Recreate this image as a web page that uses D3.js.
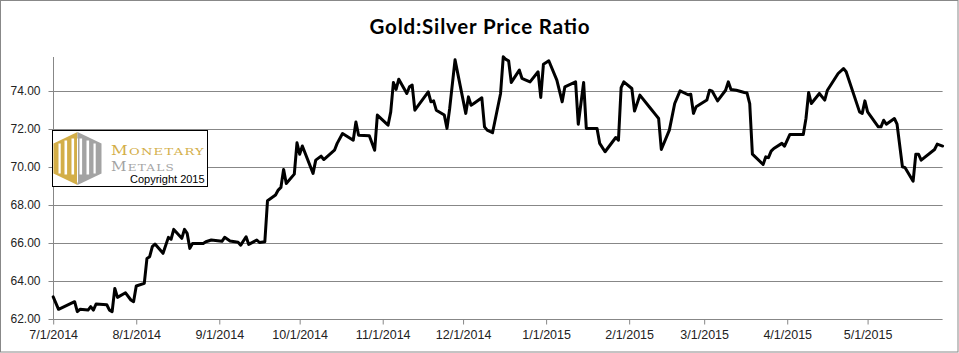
<!DOCTYPE html>
<html>
<head>
<meta charset="utf-8">
<script src="https://cdn.jsdelivr.net/npm/d3@7"></script>
<style>
  html, body { margin: 0; padding: 0; background: #fff; }
  svg { display: block; }
</style>
</head>
<body>
<svg id="chart" width="959" height="353"></svg>
<script>
// ---------------- DATA ----------------
const title = "Gold:Silver Price Ratio";

const dates = [
  "2014-07-01","2014-07-03","2014-07-09","2014-07-10","2014-07-11","2014-07-14","2014-07-15","2014-07-16","2014-07-17","2014-07-21",
  "2014-07-22","2014-07-23","2014-07-24","2014-07-25","2014-07-28","2014-07-30","2014-07-31","2014-08-01","2014-08-04","2014-08-05",
  "2014-08-06","2014-08-07","2014-08-08","2014-08-11","2014-08-13","2014-08-14","2014-08-15","2014-08-18","2014-08-19","2014-08-20",
  "2014-08-21","2014-08-22","2014-08-26","2014-08-27","2014-08-29","2014-09-02","2014-09-03","2014-09-05","2014-09-08","2014-09-09",
  "2014-09-11","2014-09-12","2014-09-15","2014-09-16","2014-09-18","2014-09-19","2014-09-22","2014-09-23","2014-09-24","2014-09-25",
  "2014-09-26","2014-09-29","2014-09-30","2014-10-01","2014-10-02","2014-10-06","2014-10-07","2014-10-09","2014-10-10","2014-10-14",
  "2014-10-15","2014-10-17","2014-10-21","2014-10-22","2014-10-23","2014-10-27","2014-10-29","2014-10-30","2014-11-03","2014-11-04",
  "2014-11-05","2014-11-06","2014-11-07","2014-11-10","2014-11-11","2014-11-12","2014-11-13","2014-11-18","2014-11-19","2014-11-20",
  "2014-11-21","2014-11-24","2014-11-25","2014-11-26","2014-11-28","2014-12-02","2014-12-03","2014-12-04","2014-12-05","2014-12-08",
  "2014-12-09","2014-12-10","2014-12-12","2014-12-15","2014-12-16","2014-12-17","2014-12-18","2014-12-19","2014-12-22","2014-12-23",
  "2014-12-24","2014-12-26","2014-12-29","2014-12-30","2014-12-31","2015-01-02","2015-01-05","2015-01-07","2015-01-08","2015-01-12",
  "2015-01-13","2015-01-15","2015-01-16","2015-01-20","2015-01-21","2015-01-23","2015-01-27","2015-01-28","2015-01-29","2015-01-30",
  "2015-02-02","2015-02-03","2015-02-05","2015-02-09","2015-02-11","2015-02-12","2015-02-13","2015-02-16","2015-02-18","2015-02-20",
  "2015-02-23","2015-02-24","2015-02-25","2015-02-26","2015-03-02","2015-03-03","2015-03-04","2015-03-06","2015-03-09","2015-03-10",
  "2015-03-11","2015-03-13","2015-03-16","2015-03-17","2015-03-18","2015-03-19","2015-03-23","2015-03-24","2015-03-25","2015-03-26",
  "2015-03-27","2015-03-30","2015-03-31","2015-04-02","2015-04-07","2015-04-08","2015-04-09","2015-04-10","2015-04-13","2015-04-15",
  "2015-04-16","2015-04-20","2015-04-22","2015-04-23","2015-04-28","2015-04-29","2015-04-30","2015-05-01","2015-05-05","2015-05-06",
  "2015-05-07","2015-05-08","2015-05-11","2015-05-12","2015-05-14","2015-05-15","2015-05-18","2015-05-19","2015-05-20","2015-05-21",
  "2015-05-26","2015-05-27","2015-05-29"
];

const ratios = [
  63.17,62.51,62.91,62.39,62.51,62.47,62.65,62.47,62.79,62.75,
  62.47,62.39,63.61,63.14,63.38,63.00,62.91,63.74,63.88,65.19,
  65.28,65.81,65.95,65.46,66.30,66.20,66.72,66.25,66.72,66.51,
  65.72,65.98,65.98,66.07,66.16,66.09,66.30,66.11,66.04,65.89,
  66.33,65.93,66.16,66.03,66.07,68.23,68.53,68.79,68.93,69.88,
  69.14,69.63,71.28,70.68,71.11,69.67,70.37,70.58,70.40,70.89,
  71.25,71.77,71.42,72.38,71.68,71.65,70.89,72.74,72.21,72.91,
  74.46,74.09,74.63,73.88,74.23,74.32,73.00,73.96,73.44,73.49,
  73.00,72.74,72.04,73.09,75.65,72.83,73.70,73.26,73.35,73.65,
  72.12,71.95,71.81,73.88,75.81,75.67,75.60,74.46,75.11,74.67,
  74.61,74.49,75.02,73.67,75.42,75.60,74.58,73.44,74.23,74.49,
  72.26,74.46,72.04,72.04,71.25,70.81,71.56,71.42,74.19,74.49,
  74.14,72.95,73.79,73.09,72.74,72.56,70.93,71.95,73.35,74.02,
  73.81,73.84,72.83,73.18,73.53,74.05,74.00,73.49,74.05,74.49,
  74.09,74.05,73.93,73.90,73.35,70.68,70.14,70.54,70.50,70.84,
  70.98,71.25,71.10,71.72,71.72,72.56,73.93,73.35,73.88,73.53,
  74.05,74.93,75.19,75.02,72.91,72.83,73.49,72.91,72.12,72.12,
  72.47,72.26,72.56,72.26,70.02,69.97,69.26,70.68,70.68,70.37,
  70.93,71.21,71.11
];

const xDomain = ["2014-07-01", "2015-05-29"];
const yDomain = [62, 75.8];
const yTicks = [62, 64, 66, 68, 70, 72, 74];
const xTicks = ["2014-07-01","2014-08-01","2014-09-01","2014-10-01","2014-11-01","2014-12-01",
                "2015-01-01","2015-02-01","2015-03-01","2015-04-01","2015-05-01"];

const logoLine1 = ["M", "ONETARY"];
const logoLine2 = ["M", "ETALS"];
const logoCopyright = "Copyright 2015";

// ---------------- LAYOUT ----------------
const W = 959, H = 353;
const plot = { left: 53.2, right: 942.6, top: 57, bottom: 319 };
const parse = d3.timeParse("%Y-%m-%d");
const data = dates.map((d, i) => ({ date: parse(d), value: ratios[i] }));

const svg = d3.select("#chart");

// outer border
svg.append("rect")
  .attr("x", 0.5).attr("y", 0.5).attr("width", W - 1.5).attr("height", H - 1.5)
  .attr("fill", "#fff").attr("stroke", "#888").attr("stroke-width", 1);

const x = d3.scaleTime().domain(xDomain.map(parse)).range([plot.left, plot.right]);
const y = d3.scaleLinear().domain(yDomain).range([plot.bottom, plot.top]);

// title
svg.append("text")
  .attr("x", 479.5).attr("y", 34)
  .attr("text-anchor", "middle")
  .attr("font-family", "Lato, 'Open Sans', sans-serif")
  .attr("font-weight", "bold")
  .attr("font-size", 20.5)
  .attr("textLength", 220).attr("lengthAdjust", "spacing")
  .attr("fill", "#000")
  .text(title);

// gridlines
svg.append("g")
  .selectAll("line")
  .data(yTicks.filter(t => t !== yDomain[0]))
  .join("line")
  .attr("x1", plot.left).attr("x2", plot.right)
  .attr("y1", d => Math.round(y(d)) + 0.5).attr("y2", d => Math.round(y(d)) + 0.5)
  .attr("stroke", "#878787").attr("stroke-width", 1);

// y axis
const yAxis = d3.axisLeft(y).tickValues(yTicks).tickFormat(d3.format(".2f")).tickSize(5).tickPadding(8);
const gy = svg.append("g").attr("transform", `translate(${Math.round(plot.left) + 0.5},0)`).call(yAxis);
gy.select(".domain").attr("stroke", "#878787").attr("d", `M-0,${plot.top}V${plot.bottom}`);
gy.selectAll(".tick line").attr("stroke", "#878787");
gy.selectAll(".tick").attr("transform", d => `translate(0,${Math.round(y(d)) + 0.5})`);
gy.selectAll("text").attr("font-family", "'Liberation Sans', Arial, sans-serif").attr("font-size", 12).attr("fill", "#222");

// x axis
const xAxis = d3.axisBottom(x).tickValues(xTicks.map(parse)).tickFormat(d3.timeFormat("%-m/%-d/%Y")).tickSize(5).tickPadding(6);
const gx = svg.append("g").attr("transform", `translate(0,${Math.round(plot.bottom) + 0.5})`).call(xAxis);
gx.select(".domain").attr("stroke", "#878787").attr("d", `M${plot.left},0H${plot.right}`);
gx.selectAll(".tick line").attr("stroke", "#878787");
gx.selectAll("text").attr("font-family", "'Liberation Sans', Arial, sans-serif").attr("font-size", 12.5).attr("fill", "#222");

// line
const line = d3.line().x(d => x(d.date)).y(d => y(d.value));
svg.append("path")
  .datum(data)
  .attr("d", line)
  .attr("fill", "none")
  .attr("stroke", "#000")
  .attr("stroke-width", 3)
  .attr("stroke-linejoin", "round")
  .attr("stroke-linecap", "round");

// ---------------- LOGO ----------------
const logo = svg.append("g").attr("transform", "translate(52.5,130.5)");
logo.append("rect").attr("x", 0).attr("y", 0).attr("width", 155).attr("height", 56)
  .attr("fill", "#fff").attr("stroke", "#000").attr("stroke-width", 1);

const gold = "#D3AE48", grey = "#A3A3A3";
const hexCx = 25, hexTop = 1.5, hexBot = 54.5, sideTop = 13, sideBot = 43, hexL = 1, hexR = 49;
logo.append("path").attr("d", `M${hexCx},${hexTop}L${hexL},${sideTop}L${hexL},${sideBot}L${hexCx},${hexBot}Z`).attr("fill", gold);
logo.append("path").attr("d", `M${hexCx},${hexTop}L${hexR},${sideTop}L${hexR},${sideBot}L${hexCx},${hexBot}Z`).attr("fill", grey);
// white stripes forming the double M
const stripes = [
  [6, 13, 2.2, 30], [12, 10, 2.6, 34], [19, 8, 2.6, 36],
  [27, 8, 2.6, 36], [34, 10, 2.6, 34], [41, 13, 2.2, 30]
];
logo.selectAll("rect.stripe").data(stripes).join("rect")
  .attr("class", "stripe")
  .attr("x", d => d[0]).attr("y", d => d[1]).attr("width", d => d[2]).attr("height", d => d[3])
  .attr("fill", "#fff");
logo.append("rect").attr("x", 24.5).attr("y", 8).attr("width", 1).attr("height", 44).attr("fill", "#fff");

function logoWord(parts, yPos, len, color) {
  const t = logo.append("text").attr("x", 58.5).attr("y", yPos)
    .attr("font-family", "'DejaVu Serif', 'Liberation Serif', serif")
    .attr("letter-spacing", 1)
    .attr("textLength", len).attr("lengthAdjust", "spacingAndGlyphs")
    .attr("fill", color);
  t.append("tspan").attr("font-size", 12.5).text(parts[0]);
  t.append("tspan").attr("font-size", 10).text(parts[1]);
}
logoWord(logoLine1, 24.5, 94, gold);
logoWord(logoLine2, 40, 64, grey);

logo.append("text").attr("x", 77.5).attr("y", 52)
  .attr("font-family", "'Liberation Sans', Arial, sans-serif")
  .attr("font-size", 11).attr("fill", "#000").text(logoCopyright);
</script>
</body>
</html>
